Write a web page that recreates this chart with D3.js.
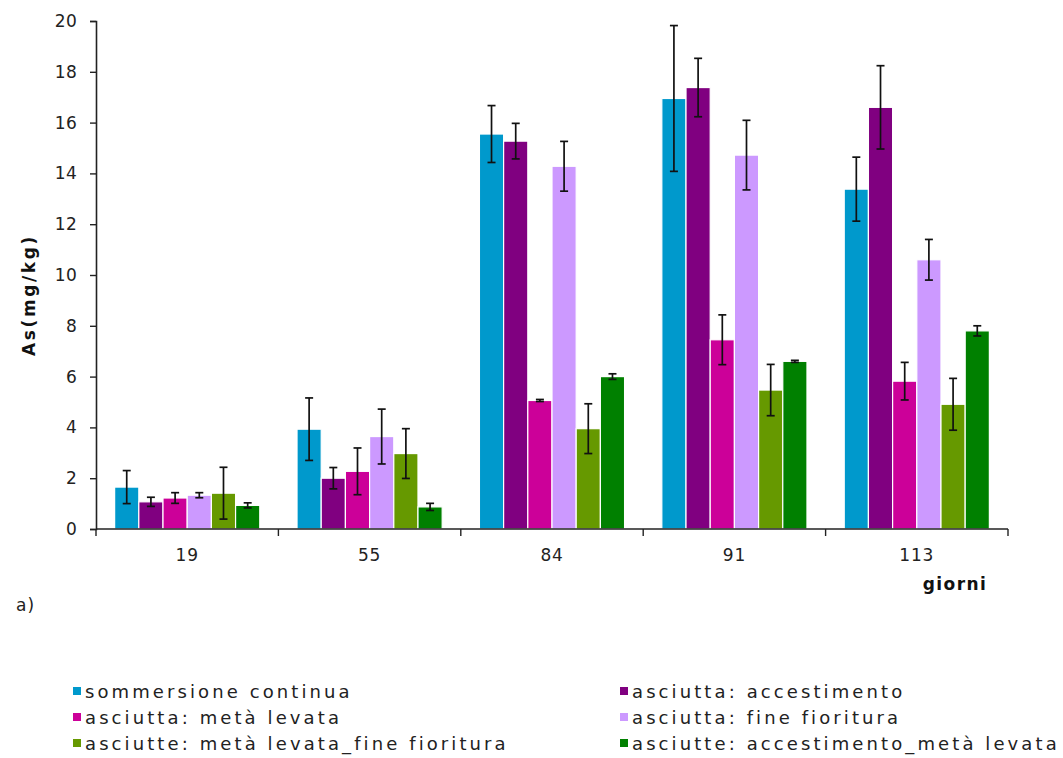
<!DOCTYPE html>
<html>
<head>
<meta charset="utf-8">
<script src="https://cdn.jsdelivr.net/npm/d3@7/dist/d3.min.js"></script>
<style>
  html, body { margin: 0; padding: 0; background: #fff; }
  svg { display: block; font-family: "DejaVu Sans", Verdana, sans-serif; }
</style>
</head>
<body>
<svg id="chart" width="1063" height="758"></svg>
<script>
// Arsenic concentration (mg/kg) by sampling day, per water-management treatment
const categories = ["19", "55", "84", "91", "113"];
const seriesNames = [
  "sommersione continua",
  "asciutta: accestimento",
  "asciutta: metà levata",
  "asciutta: fine fioritura",
  "asciutte: metà levata_fine fioritura",
  "asciutte: accestimento_metà levata"
];
const seriesColors = ["#0099CC", "#800080", "#CC0099", "#CC99FF", "#669900", "#008000"];

const sommersioneContinua   = [1.65, 3.93, 15.55, 16.95, 13.38];
const accestimento          = [1.07, 2.00, 15.27, 17.38, 16.60];
const metaLevata            = [1.22, 2.27, 5.06, 7.45, 5.82];
const fineFioritura         = [1.33, 3.64, 14.28, 14.72, 10.60];
const metaLevataFineFior    = [1.41, 2.97, 3.95, 5.47, 4.91];
const accestimentoMetaLev   = [0.93, 0.87, 6.00, 6.60, 7.80];

const errSommersione        = [0.65, 1.23, 1.12, 2.87, 1.26];
const errAccestimento       = [0.18, 0.42, 0.70, 1.15, 1.64];
const errMetaLevata         = [0.21, 0.92, 0.04, 0.98, 0.74];
const errFineFioritura      = [0.10, 1.08, 0.98, 1.37, 0.80];
const errMetaLevataFineFior = [1.02, 0.98, 0.98, 1.01, 1.02];
const errAccestimentoMetaLev= [0.10, 0.14, 0.11, 0.04, 0.20];

const yTicks = [0, 2, 4, 6, 8, 10, 12, 14, 16, 18, 20];

const seriesValues = [sommersioneContinua, accestimento, metaLevata, fineFioritura, metaLevataFineFior, accestimentoMetaLev];
const seriesErrors = [errSommersione, errAccestimento, errMetaLevata, errFineFioritura, errMetaLevataFineFior, errAccestimentoMetaLev];

const svg = d3.select("#chart");
const plot = { left: 96, top: 21, width: 912, height: 508 };

const x0 = d3.scaleBand().domain(categories).range([plot.left, plot.left + plot.width]).paddingInner(0).paddingOuter(0);
const x1 = d3.scaleBand().domain(d3.range(seriesNames.length)).range([0, x0.bandwidth()]).paddingInner(0).paddingOuter(0.77);
const y = d3.scaleLinear().domain([0, 20]).range([plot.top + plot.height, plot.top]);

// bars
const rows = [];
seriesValues.forEach((vals, s) => vals.forEach((v, c) => rows.push({ s, c, v, e: seriesErrors[s][c] })));

svg.append("g").selectAll("rect").data(rows).join("rect")
  .attr("x", d => x0(categories[d.c]) + x1(d.s))
  .attr("y", d => y(d.v))
  .attr("width", x1.bandwidth())
  .attr("height", d => y(0) - y(d.v))
  .attr("fill", d => seriesColors[d.s])
  .attr("stroke", "#fff")
  .attr("stroke-width", 1.2);

// error bars
const eb = svg.append("g").attr("stroke", "#111").attr("stroke-width", 1.7);
rows.forEach(d => {
  const cx = x0(categories[d.c]) + x1(d.s) + x1.bandwidth() / 2;
  const yt = y(d.v + d.e), yb = y(d.v - d.e);
  eb.append("line").attr("x1", cx).attr("x2", cx).attr("y1", yt).attr("y2", yb);
  eb.append("line").attr("x1", cx - 4).attr("x2", cx + 4).attr("y1", yt).attr("y2", yt);
  eb.append("line").attr("x1", cx - 4).attr("x2", cx + 4).attr("y1", yb).attr("y2", yb);
});

// y axis
const yAxis = svg.append("g")
  .attr("transform", `translate(${plot.left},0)`)
  .call(d3.axisLeft(y).tickValues(yTicks).tickSize(6).tickPadding(13).tickFormat(d3.format("d")));
yAxis.select(".domain").attr("stroke", "#222").attr("stroke-width", 1.6);
yAxis.selectAll(".tick line").attr("stroke", "#222").attr("stroke-width", 1.4);
yAxis.selectAll("text").attr("font-size", 17).attr("fill", "#222")
  .attr("font-family", "DejaVu Sans, Verdana, sans-serif").attr("letter-spacing", 0.3);

// x axis: ticks sit on the category boundaries
const boundaries = categories.map(c => x0(c)).concat([plot.left + plot.width]);
const xg = svg.append("g");
xg.append("line")
  .attr("x1", plot.left).attr("x2", plot.left + plot.width)
  .attr("y1", y(0)).attr("y2", y(0))
  .attr("stroke", "#222").attr("stroke-width", 1.6);
xg.selectAll("line.tk").data(boundaries).join("line").attr("class", "tk")
  .attr("x1", d => d).attr("x2", d => d)
  .attr("y1", y(0)).attr("y2", y(0) + 7)
  .attr("stroke", "#222").attr("stroke-width", 1.4);
xg.selectAll("text").data(categories).join("text")
  .attr("x", d => x0(d) + x0.bandwidth() / 2)
  .attr("y", y(0) + 32)
  .attr("text-anchor", "middle")
  .attr("font-size", 17).attr("fill", "#222").attr("letter-spacing", 0.8)
  .text(d => d);

// axis titles
svg.append("text")
  .attr("transform", `translate(35,${plot.top + plot.height / 2 + 20}) rotate(-90)`)
  .attr("text-anchor", "middle")
  .attr("font-size", 17).attr("font-weight", "bold").attr("fill", "#111").attr("letter-spacing", 2.6)
  .text("As(mg/kg)");

svg.append("text")
  .attr("x", 955).attr("y", 590)
  .attr("text-anchor", "middle")
  .attr("font-size", 17).attr("font-weight", "bold").attr("fill", "#111").attr("letter-spacing", 1.4)
  .text("giorni");

svg.append("text")
  .attr("x", 16).attr("y", 611)
  .attr("font-size", 17).attr("fill", "#222").attr("letter-spacing", 1)
  .text("a)");

// legend: two columns, three rows
const legend = svg.append("g");
const legendItems = legend.selectAll("g").data(seriesNames).join("g")
  .attr("transform", (d, i) => `translate(${i % 2 === 0 ? 73 : 620},${692 + Math.floor(i / 2) * 26})`);
legendItems.append("rect")
  .attr("x", 0).attr("y", -5).attr("width", 8).attr("height", 8)
  .attr("fill", (d, i) => seriesColors[i]);
legendItems.append("text")
  .attr("x", 12).attr("y", 6)
  .attr("font-size", 18).attr("fill", "#222").attr("letter-spacing", 3.1)
  .text(d => d);
</script>
</body>
</html>
